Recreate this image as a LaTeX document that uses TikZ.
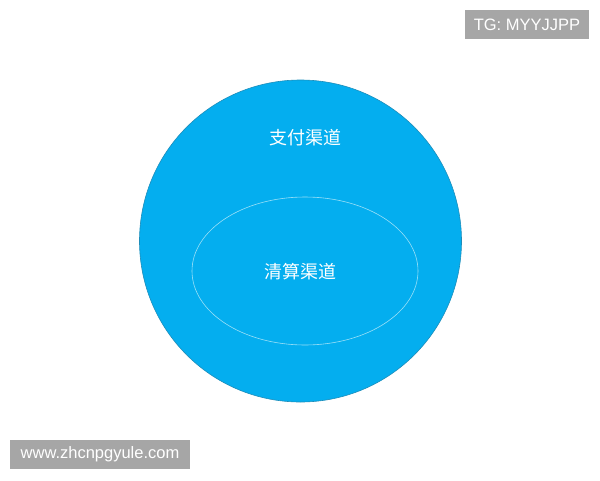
\documentclass[tikz,border=0pt]{standalone}
\usepackage{fontspec}
\setmainfont{Liberation Sans}
\newfontfamily\cjk{Noto Sans CJK SC}
\usepackage{xcolor}
\definecolor{ChannelBlue}{HTML}{04AEEF}
\definecolor{ChannelEdge}{HTML}{1D8DBA}
\definecolor{InnerEdge}{HTML}{9BE0F7}
\definecolor{TagGray}{HTML}{A6A6A6}
\tikzset{%
    outer channel/.style={circle, fill=ChannelBlue, draw=ChannelEdge, line width=0.6pt, minimum size=322pt, inner sep=0pt},
    inner channel/.style={ellipse, draw=InnerEdge, line width=0.6pt, minimum width=226pt, minimum height=148pt, inner sep=0pt},
    channel label/.style={text=white, font=\cjk\fontsize{18}{18}\selectfont},
    tag/.style={fill=TagGray, text=white, font=\fontsize{16.5}{16.5}\selectfont, inner sep=0pt, minimum height=29pt}
}
\usetikzlibrary{shapes.geometric, positioning}
\begin{document}
\begin{tikzpicture}[x=1pt, y=-1pt]
    \useasboundingbox (0,0) rectangle (600,480);
    \node[outer channel] (pay) at (300.5,241) {};
    \node[inner channel] (clear) at (305,271) {};
    \node[channel label] (paylabel) at (305,138) {支付渠道};
    \node[channel label] (clearlabel) at (300,272) {清算渠道};
    \node[tag, minimum width=124pt] (tg) at (527,24.5) {TG: MYYJJPP};
    \node[tag, minimum width=180pt] (site) at (100,454.5) {www.zhcnpgyule.com};
\end{tikzpicture}
\end{document}
